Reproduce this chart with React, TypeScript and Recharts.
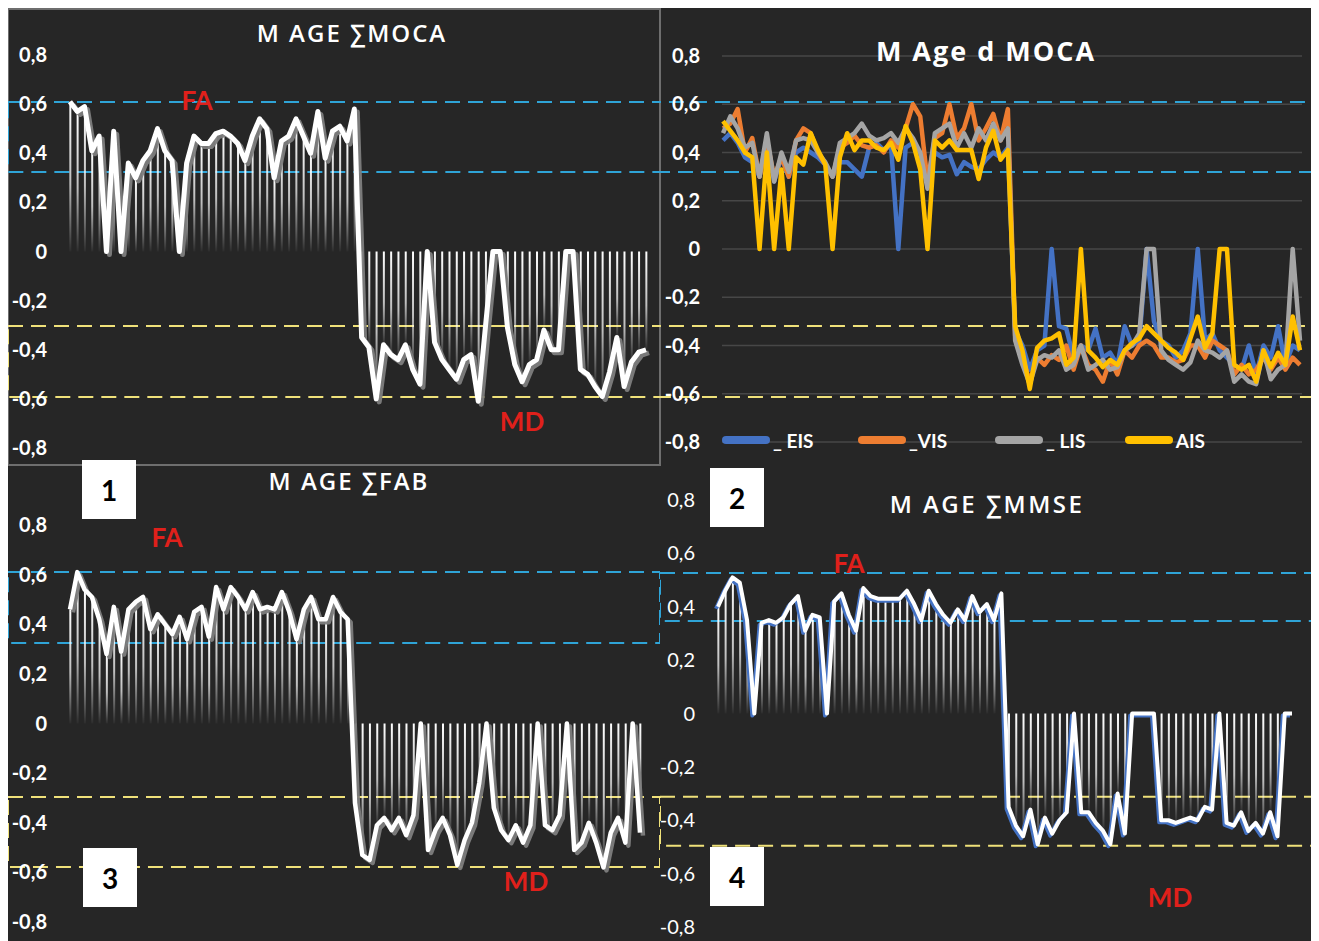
import React from "react";
import {
  ComposedChart,
  Line,
  Bar,
  XAxis,
  YAxis,
  ReferenceArea,
  CartesianGrid,
  Legend,
} from "recharts";

const yTicks = [-0.8, -0.6, -0.4, -0.2, 0, 0.2, 0.4, 0.6, 0.8];

// 1: M AGE ∑MOCA
const mocaFA = [0.61, 0.57, 0.59, 0.41, 0.47, 0, 0.49, 0, 0.36, 0.3, 0.37, 0.41, 0.5, 0.41, 0.37, 0, 0.36, 0.47, 0.44, 0.44, 0.48, 0.49, 0.47, 0.44, 0.37, 0.47, 0.54, 0.5, 0.3, 0.45, 0.47, 0.54, 0.47, 0.4, 0.57, 0.38, 0.49, 0.51, 0.45, 0.58];
const mocaMD = [-0.35, -0.39, -0.6, -0.38, -0.42, -0.44, -0.38, -0.48, -0.54, 0, -0.37, -0.44, -0.48, -0.52, -0.44, -0.42, -0.61, -0.3, 0, 0, -0.31, -0.46, -0.53, -0.46, -0.44, -0.32, -0.4, -0.4, 0, 0, -0.48, -0.5, -0.55, -0.59, -0.49, -0.35, -0.55, -0.45, -0.41, -0.4];

// 3: M AGE ∑FAB
const fabFA = [0.46, 0.61, 0.54, 0.51, 0.42, 0.28, 0.47, 0.29, 0.46, 0.49, 0.51, 0.38, 0.44, 0.4, 0.36, 0.43, 0.34, 0.45, 0.47, 0.35, 0.55, 0.46, 0.55, 0.51, 0.46, 0.53, 0.46, 0.47, 0.46, 0.53, 0.45, 0.34, 0.46, 0.51, 0.42, 0.42, 0.51, 0.45, 0.42];
const fabMD = [-0.32, -0.53, -0.55, -0.41, -0.38, -0.43, -0.38, -0.45, -0.37, 0, -0.51, -0.43, -0.38, -0.45, -0.57, -0.47, -0.4, -0.24, 0, -0.34, -0.43, -0.47, -0.41, -0.48, -0.41, 0, -0.41, -0.43, -0.37, 0, -0.51, -0.48, -0.4, -0.48, -0.58, -0.44, -0.38, -0.48, 0, -0.44];

// 4: M AGE ∑MMSE
const mmseFA = [0.4, 0.46, 0.51, 0.49, 0.35, 0, 0.34, 0.35, 0.34, 0.36, 0.41, 0.44, 0.31, 0.37, 0.36, 0, 0.42, 0.45, 0.37, 0.31, 0.47, 0.44, 0.43, 0.43, 0.43, 0.43, 0.46, 0.41, 0.35, 0.46, 0.41, 0.37, 0.34, 0.39, 0.35, 0.44, 0.38, 0.41, 0.35, 0.45];
const mmseMD = [-0.35, -0.42, -0.46, -0.36, -0.49, -0.39, -0.45, -0.4, -0.37, 0, -0.37, -0.37, -0.41, -0.44, -0.49, -0.3, -0.45, 0, 0, 0, 0, -0.4, -0.4, -0.41, -0.4, -0.39, -0.4, -0.35, -0.36, 0, -0.41, -0.42, -0.37, -0.44, -0.41, -0.45, -0.37, -0.46, 0, 0];

// 2: M Age d MOCA
const eisFA = [0.45, 0.48, 0.44, 0.38, 0.36, 0.3, 0.45, 0.28, 0.38, 0.3, 0.4, 0.42, 0.4, 0.38, 0.35, 0.3, 0.36, 0.36, 0.33, 0.3, 0.42, 0.44, 0.41, 0.43, 0, 0.42, 0.44, 0.4, 0.27, 0.4, 0.38, 0.39, 0.31, 0.36, 0.34, 0.33, 0.37, 0.4, 0.38, 0.42];
const eisMD = [-0.34, -0.4, -0.5, -0.42, -0.4, 0, -0.32, -0.33, -0.45, -0.4, -0.42, -0.33, -0.45, -0.43, -0.48, -0.32, -0.4, -0.38, 0, -0.3, -0.38, -0.4, -0.45, -0.42, -0.35, 0, -0.38, -0.35, -0.42, -0.45, -0.48, -0.5, -0.4, -0.52, -0.4, -0.45, -0.32, -0.48, -0.4, -0.42];
const visFA = [0.5, 0.52, 0.58, 0.4, 0.46, 0.3, 0.45, 0.3, 0.38, 0.3, 0.45, 0.5, 0.48, 0.4, 0.35, 0.3, 0.42, 0.44, 0.47, 0.43, 0.42, 0.43, 0.4, 0.45, 0.42, 0.5, 0.6, 0.55, 0.28, 0.46, 0.48, 0.6, 0.46, 0.5, 0.6, 0.45, 0.5, 0.56, 0.45, 0.58];
const visMD = [-0.36, -0.45, -0.55, -0.45, -0.48, -0.44, -0.46, -0.4, -0.5, -0.4, -0.48, -0.5, -0.55, -0.46, -0.52, -0.42, -0.45, -0.4, -0.38, -0.4, -0.45, -0.45, -0.47, -0.46, -0.4, -0.4, -0.45, -0.38, -0.4, -0.42, -0.52, -0.48, -0.52, -0.5, -0.45, -0.5, -0.45, -0.5, -0.45, -0.48];
const lisFA = [0.48, 0.55, 0.5, 0.42, 0.44, 0.3, 0.48, 0.28, 0.4, 0.32, 0.45, 0.46, 0.45, 0.4, 0.36, 0.3, 0.44, 0.46, 0.48, 0.52, 0.47, 0.45, 0.46, 0.48, 0.44, 0.5, 0.46, 0.4, 0.25, 0.48, 0.5, 0.52, 0.42, 0.48, 0.42, 0.5, 0.45, 0.52, 0.45, 0.5];
const lisMD = [-0.38, -0.48, -0.56, -0.46, -0.44, -0.45, -0.42, -0.5, -0.48, -0.4, -0.5, -0.48, -0.46, -0.5, -0.49, -0.42, -0.4, -0.35, 0, 0, -0.42, -0.46, -0.48, -0.5, -0.47, -0.38, -0.42, -0.43, -0.45, -0.42, -0.55, -0.52, -0.55, -0.56, -0.42, -0.54, -0.5, -0.48, 0, -0.38];
const aisFA = [0.53, 0.49, 0.45, 0.4, 0.38, 0, 0.4, 0, 0.33, 0, 0.38, 0.35, 0.48, 0.41, 0.35, 0, 0.38, 0.48, 0.41, 0.45, 0.45, 0.42, 0.41, 0.44, 0.37, 0.51, 0.44, 0.33, 0, 0.45, 0.42, 0.45, 0.41, 0.41, 0.41, 0.29, 0.42, 0.49, 0.37, 0.41];
const aisMD = [-0.32, -0.42, -0.58, -0.41, -0.38, -0.37, -0.35, -0.48, -0.45, 0, -0.42, -0.45, -0.49, -0.46, -0.48, -0.42, -0.39, -0.37, -0.32, -0.35, -0.38, -0.41, -0.43, -0.46, -0.37, -0.28, -0.41, -0.35, 0, 0, -0.48, -0.5, -0.48, -0.55, -0.42, -0.49, -0.43, -0.48, -0.28, -0.42];

const moca = [...mocaFA, ...mocaMD];
const fab = [...fabFA, ...fabMD];
const mmse = [...mmseFA, ...mmseMD];
const eis = [...eisFA, ...eisMD];
const vis = [...visFA, ...visMD];
const lis = [...lisFA, ...lisMD];
const ais = [...aisFA, ...aisMD];

const series = [
  { key: "eis", name: "_ EIS", color: "#4472C4" },
  { key: "vis", name: "_VIS", color: "#ED7D31" },
  { key: "lis", name: "_ LIS", color: "#A5A5A5" },
  { key: "ais", name: "AIS", color: "#FFC000" },
];
const seriesOrder = series.map((s) => s.key);

const CYAN = "#2FA4D7";
const YELLOW = "#EFE17A";

const css = `
.shadow-gray .recharts-line-curve { filter: drop-shadow(3px 3px 0px rgba(125,125,125,0.95)); }
.shadow-blue .recharts-line-curve { filter: drop-shadow(-2px 2px 0px #4472C4); }
`;

const fmt = (v: number) => (Math.abs(v) < 1e-9 ? "0" : v.toFixed(1).replace(".", ","));

const makeTick = (bold: boolean) => (props: any) => (
  <text
    x={props.x}
    y={props.y}
    dy="0.35em"
    textAnchor="end"
    fill="#fff"
    fontSize={20}
    fontWeight={bold ? 700 : 400}
    fontFamily="Lato, sans-serif"
  >
    {fmt(props.payload.value)}
  </text>
);

type DropPanelProps = {
  id: string;
  values: number[];
  left: number;
  top: number;
  width: number;
  height: number;
  mTop: number;
  mBottom: number;
  xDomain: [number, number];
  bandX: [number, number];
  labelEdge: number;
  bold: boolean;
  cyan: [number, number];
  yellow: [number, number];
  shadow: string;
  lineWidth: number;
};

function DropPanel(p: DropPanelProps) {
  const data = p.values.map((v, i) => ({ i, v }));
  return (
    <div className={p.shadow} style={{ position: "absolute", left: p.left, top: p.top }}>
      <ComposedChart
        width={p.width}
        height={p.height}
        data={data}
        margin={{ top: p.mTop, right: 0, bottom: p.mBottom, left: 0 }}
      >
        <defs>
          <linearGradient id={p.id} x1="0" y1="0" x2="0" y2="1">
            <stop offset="0%" stopColor="#fff" stopOpacity={1} />
            <stop offset="55%" stopColor="#fff" stopOpacity={0.7} />
            <stop offset="100%" stopColor="#fff" stopOpacity={0.03} />
          </linearGradient>
        </defs>
        <XAxis dataKey="i" type="number" domain={p.xDomain} hide />
        <YAxis
          type="number"
          domain={[-0.8, 0.8]}
          ticks={yTicks}
          interval={0}
          mirror
          axisLine={false}
          tickLine={false}
          tickSize={0}
          tickMargin={p.labelEdge}
          tick={makeTick(p.bold)}
        />
        <Bar dataKey="v" barSize={2} fill={`url(#${p.id})`} isAnimationActive={false} />
        <Line
          dataKey="v"
          type="linear"
          stroke="#fff"
          strokeWidth={p.lineWidth}
          strokeLinejoin="round"
          dot={false}
          activeDot={false}
          isAnimationActive={false}
        />
        <ReferenceArea
          x1={p.bandX[0]}
          x2={p.bandX[1]}
          y1={p.cyan[0]}
          y2={p.cyan[1]}
          ifOverflow="visible"
          fill="none"
          stroke={CYAN}
          strokeWidth={2}
          strokeDasharray="15 8"
        />
        <ReferenceArea
          x1={p.bandX[0]}
          x2={p.bandX[1]}
          y1={p.yellow[0]}
          y2={p.yellow[1]}
          ifOverflow="visible"
          fill="none"
          stroke={YELLOW}
          strokeWidth={2}
          strokeDasharray="15 8"
        />
      </ComposedChart>
    </div>
  );
}

const legendWidths = [136, 137, 130, 80];

const renderLegend = (props: any) => {
  const items = [...(props.payload || [])].sort(
    (a: any, b: any) => seriesOrder.indexOf(a.dataKey) - seriesOrder.indexOf(b.dataKey)
  );
  return (
    <div style={{ display: "flex", alignItems: "center", height: 24 }}>
      {items.map((entry: any, k: number) => (
        <div key={entry.value} style={{ display: "flex", alignItems: "center", width: legendWidths[k] }}>
          <span
            style={{
              display: "inline-block",
              width: 48,
              height: 8,
              borderRadius: 4,
              background: entry.color,
              marginRight: 3,
            }}
          />
          <span style={{ color: "#fff", fontWeight: 700, fontSize: 19, fontFamily: "Lato, sans-serif" }}>
            {entry.value}
          </span>
        </div>
      ))}
    </div>
  );
};

function LinesPanel() {
  const data = eis.map((_, i) => ({ i, eis: eis[i], vis: vis[i], lis: lis[i], ais: ais[i] }));
  return (
    <div style={{ position: "absolute", left: 652, top: 0 }}>
      <ComposedChart width={653} height={452} data={data} margin={{ top: 48, right: 0, bottom: 18, left: 0 }}>
        <CartesianGrid vertical={false} stroke="#474747" strokeWidth={1.5} x={62} width={580} />
        <XAxis dataKey="i" type="number" domain={[-8.63, 80.78]} hide />
        <YAxis
          type="number"
          domain={[-0.8, 0.8]}
          ticks={yTicks}
          interval={0}
          mirror
          axisLine={false}
          tickLine={false}
          tickSize={0}
          tickMargin={40}
          tick={makeTick(true)}
        />
        {series.map((s) => (
          <Line
            key={s.key}
            dataKey={s.key}
            name={s.name}
            type="linear"
            stroke={s.color}
            strokeWidth={4.5}
            strokeLinejoin="round"
            dot={false}
            activeDot={false}
            isAnimationActive={false}
          />
        ))}
        <ReferenceArea
          x1={-20}
          x2={80.78}
          y1={0.319}
          y2={0.609}
          ifOverflow="visible"
          fill="none"
          stroke={CYAN}
          strokeWidth={2}
          strokeDasharray="15 8"
        />
        <ReferenceArea
          x1={-20}
          x2={80.78}
          y1={-0.613}
          y2={-0.319}
          ifOverflow="visible"
          fill="none"
          stroke={YELLOW}
          strokeWidth={2}
          strokeDasharray="15 8"
        />
        <Legend
          content={renderLegend}
          itemSorter={(item: any) => seriesOrder.indexOf(item.dataKey)}
          verticalAlign="middle"
          align="center"
          layout="horizontal"
          wrapperStyle={{ top: 420, left: 62, width: 560, height: 24 }}
        />
      </ComposedChart>
    </div>
  );
}

const titleStyle = (cx: number, cy: number, size: number, weight: number, spacing: number): React.CSSProperties => ({
  position: "absolute",
  left: cx,
  top: cy,
  transform: "translate(-50%, -50%)",
  color: "#fff",
  fontFamily: "'Open Sans', sans-serif",
  fontSize: size,
  fontWeight: weight,
  letterSpacing: spacing,
  whiteSpace: "nowrap",
});

const redStyle = (cx: number, cy: number): React.CSSProperties => ({
  position: "absolute",
  left: cx,
  top: cy,
  transform: "translate(-50%, -50%)",
  color: "#E0201B",
  fontFamily: "Lato, sans-serif",
  fontSize: 26,
  fontWeight: 700,
  whiteSpace: "nowrap",
});

const boxStyle = (x: number, y: number): React.CSSProperties => ({
  position: "absolute",
  left: x,
  top: y,
  width: 54,
  height: 59,
  background: "#fff",
  color: "#000",
  display: "flex",
  alignItems: "center",
  justifyContent: "center",
  fontFamily: "Lato, sans-serif",
  fontWeight: 700,
  fontSize: 28,
});

export default function App() {
  return (
    <div
      style={{
        position: "relative",
        width: 1307,
        height: 933,
        background: "#262626",
        overflow: "hidden",
        fontFamily: "Lato, sans-serif",
      }}
    >
      <style>{css}</style>
      <div
        style={{
          position: "absolute",
          left: -1,
          top: 0,
          width: 654,
          height: 458,
          border: "2px solid #6e6e6e",
          boxSizing: "border-box",
        }}
      />
      <DropPanel
        id="drop1"
        values={moca}
        left={0}
        top={0}
        width={652}
        height={457}
        mTop={47}
        mBottom={17}
        xDomain={[-8.5, 80.92]}
        bandX={[-8.5, 95]}
        labelEdge={39}
        bold
        cyan={[0.324, 0.609]}
        yellow={[-0.592, -0.303]}
        shadow="shadow-gray"
        lineWidth={5}
      />
      <LinesPanel />
      <DropPanel
        id="drop3"
        values={fab}
        left={0}
        top={457}
        width={652}
        height={476}
        mTop={60}
        mBottom={19}
        xDomain={[-8.48, 80.74]}
        bandX={[-8.48, 80.74]}
        labelEdge={39}
        bold
        cyan={[0.324, 0.611]}
        yellow={[-0.578, -0.296]}
        shadow="shadow-gray"
        lineWidth={4.5}
      />
      <DropPanel
        id="drop4"
        values={mmse}
        left={652}
        top={452}
        width={653}
        height={481}
        mTop={40}
        mBottom={14}
        xDomain={[-7.98, 81.89]}
        bandX={[-7.98, 81.89]}
        labelEdge={35}
        bold={false}
        cyan={[0.347, 0.526]}
        yellow={[-0.496, -0.312]}
        shadow="shadow-blue"
        lineWidth={4}
      />

      <div style={titleStyle(344, 24, 24, 600, 2)}>M AGE ∑MOCA</div>
      <div style={titleStyle(978, 42, 27, 700, 2)}>M Age d MOCA</div>
      <div style={titleStyle(341, 472, 24, 600, 2)}>M AGE ∑FAB</div>
      <div style={titleStyle(979, 495, 24, 600, 2.5)}>M AGE ∑MMSE</div>

      <div style={redStyle(189, 92)}>FA</div>
      <div style={redStyle(514, 413)}>MD</div>
      <div style={redStyle(159, 529)}>FA</div>
      <div style={redStyle(518, 873)}>MD</div>
      <div style={redStyle(841, 555)}>FA</div>
      <div style={redStyle(1162, 889)}>MD</div>

      <div style={boxStyle(74, 452)}>1</div>
      <div style={boxStyle(702, 460)}>2</div>
      <div style={boxStyle(75, 840)}>3</div>
      <div style={boxStyle(702, 839)}>4</div>
    </div>
  );
}
